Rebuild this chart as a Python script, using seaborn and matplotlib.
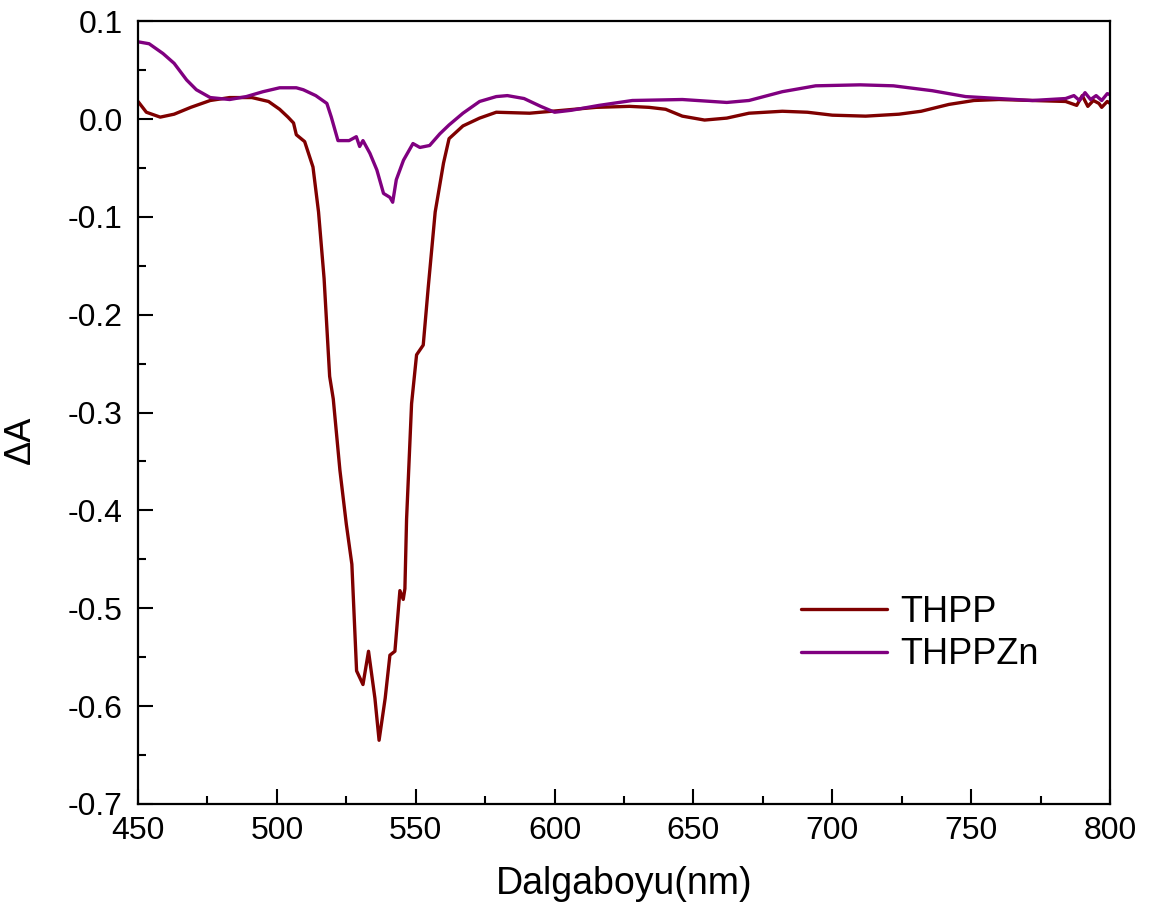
import pandas as pd
import matplotlib
matplotlib.use("Agg")
import matplotlib.pyplot as plt
import seaborn as sns
from matplotlib.ticker import MultipleLocator

# ------------------- Data -------------------

wl_thpp = [450, 453, 458, 463, 469, 476, 483, 491, 497, 501, 504, 506, 507, 510,
           513, 515, 517, 519, 520.3, 522.7, 525, 527, 528.7, 531, 533, 535.3,
           536.8, 539, 540.7, 542.5, 544.3, 545.5, 546.1, 546.7, 548.5, 550.3,
           552.7, 554.5, 557, 560, 562, 567, 573, 579, 591, 603, 615, 627, 634,
           640, 646, 654, 662, 670, 682, 691, 700, 712, 724, 732, 742, 751, 760,
           772, 784, 788, 790, 792, 794, 796, 797, 799, 800]
abs_thpp = [0.018, 0.007, 0.002, 0.005, 0.012, 0.019, 0.022, 0.022, 0.018, 0.010,
            0.002, -0.004, -0.016, -0.023, -0.049, -0.095, -0.163, -0.263, -0.286,
            -0.359, -0.414, -0.455, -0.564, -0.578, -0.544, -0.592, -0.635, -0.592,
            -0.548, -0.544, -0.482, -0.491, -0.480, -0.409, -0.291, -0.241, -0.231,
            -0.172, -0.095, -0.045, -0.020, -0.007, 0.001, 0.007, 0.006, 0.009,
            0.012, 0.013, 0.012, 0.010, 0.003, -0.001, 0.001, 0.006, 0.008, 0.007,
            0.004, 0.003, 0.005, 0.008, 0.015, 0.019, 0.020, 0.019, 0.018, 0.014,
            0.024, 0.013, 0.019, 0.016, 0.012, 0.018, 0.016]

wl_zn = [450, 454, 459, 463, 467.5, 471, 476, 483, 489, 495, 501, 507, 509.5, 514,
         518, 519.6, 522, 526, 528.6, 529.8, 531, 533.5, 536, 538.4, 540.7, 541.7,
         543, 545.6, 549, 551.5, 555, 558.7, 562, 567, 573, 579, 583, 589, 595,
         600, 606, 616, 628, 646, 662, 670, 682, 694, 710, 722, 736, 748, 760,
         772, 784, 787, 789, 791, 793, 795, 797, 799, 800]
abs_zn = [0.079, 0.077, 0.067, 0.057, 0.040, 0.030, 0.022, 0.020, 0.023, 0.028,
          0.032, 0.032, 0.030, 0.024, 0.016, 0.002, -0.022, -0.022, -0.018, -0.028,
          -0.022, -0.035, -0.052, -0.076, -0.080, -0.085, -0.062, -0.042, -0.025,
          -0.029, -0.027, -0.015, -0.006, 0.006, 0.018, 0.023, 0.024, 0.021, 0.013,
          0.007, 0.009, 0.014, 0.019, 0.020, 0.017, 0.019, 0.028, 0.034, 0.035,
          0.034, 0.029, 0.023, 0.021, 0.019, 0.021, 0.024, 0.019, 0.027, 0.020,
          0.024, 0.019, 0.026, 0.025]

series_names = ["THPP", "THPPZn"]
colors = {"THPP": "#7f0000", "THPPZn": "#800080"}

df = pd.concat([
    pd.DataFrame({"wl": wl_thpp, "dA": abs_thpp, "sample": series_names[0]}),
    pd.DataFrame({"wl": wl_zn, "dA": abs_zn, "sample": series_names[1]}),
], ignore_index=True)

# ------------------- Plot -------------------

sns.set_style("ticks")
plt.rcParams["font.family"] = ["Liberation Sans", "DejaVu Sans"]
plt.rcParams["text.color"] = "black"
plt.rcParams["axes.labelcolor"] = "black"
plt.rcParams["xtick.color"] = "black"
plt.rcParams["ytick.color"] = "black"

fig = plt.figure(figsize=(11.54, 9.24), dpi=100)
ax = fig.add_axes([0.1196, 0.130, 0.8423, 0.847])

sns.lineplot(data=df, x="wl", y="dA", hue="sample", palette=colors,
             linewidth=2.4, sort=False, estimator=None, ax=ax)

ax.set_xlim(450, 800)
ax.set_ylim(-0.7, 0.1)
ax.xaxis.set_major_locator(MultipleLocator(50))
ax.xaxis.set_minor_locator(MultipleLocator(25))
ax.yaxis.set_major_locator(MultipleLocator(0.1))
ax.yaxis.set_minor_locator(MultipleLocator(0.05))
ax.yaxis.set_major_formatter(plt.FuncFormatter(lambda v, p: f"{v:.1f}".replace("-0.0", "0.0")))

ax.tick_params(which="major", direction="in", length=11, width=1.5,
               labelsize=23, top=False, right=False)
ax.tick_params(which="minor", direction="in", length=5.5, width=1.5,
               top=False, right=False)
ax.tick_params(axis="x", which="major", pad=9)
ax.tick_params(axis="y", which="major", pad=11)

for sp in ax.spines.values():
    sp.set_linewidth(1.6)
    sp.set_color("black")

ax.set_xlabel("Dalgaboyu(nm)", fontsize=27)
ax.set_ylabel("ΔA", fontsize=26)
ax.xaxis.set_label_coords(0.5, -0.079)
ax.yaxis.set_label_coords(-0.103, 0.465)

leg = ax.legend(loc="upper left", bbox_to_anchor=(0.663, 0.29), frameon=False,
                fontsize=26, handlelength=2.4, handletextpad=0.35,
                labelspacing=0.2, borderpad=0)
for line in leg.get_lines():
    line.set_linewidth(2.4)

fig.savefig("out.png", dpi=100)
